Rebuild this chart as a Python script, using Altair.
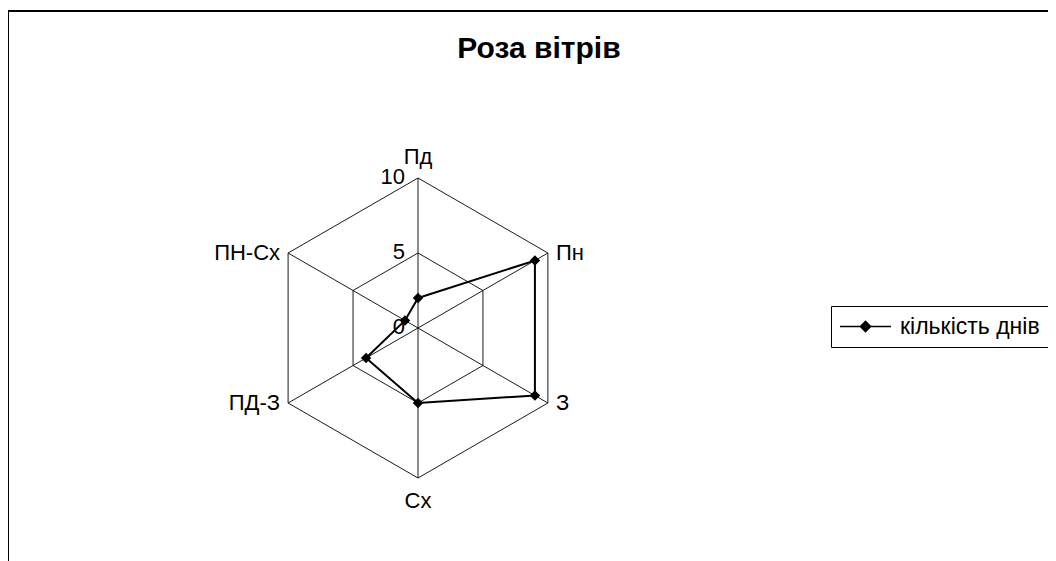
import altair as alt
import pandas as pd
import numpy as np

# ---- data ----
categories = ["Пд", "Пн", "З", "Сх", "ПД-З", "ПН-Сх"]
values = [2, 9, 9, 5, 4, 1]
grid_levels = [5, 10]
tick_values = [0, 5, 10]
series_name = "кількість днів"
title_text = "Роза вітрів"
r_max = 10

FONT = "Liberation Sans"
W, H = 1040, 553
PX = 15.0            # pixels per data unit
CX, CY = 410, 320    # centre of the radar in plot pixels

n = len(categories)
ang = [np.pi / 2 - 2 * np.pi * i / n for i in range(n)]

# series polygon (closed)
rows = []
for k in range(n + 1):
    i = k % n
    rows.append({"order": k, "cat": categories[i], "v": values[i],
                 "x": values[i] * np.cos(ang[i]), "y": values[i] * np.sin(ang[i]),
                 "series": series_name})
series_df = pd.DataFrame(rows)
pts_df = series_df.iloc[:n]

# grid hexagons
grows = []
for lv in grid_levels:
    for k in range(n + 1):
        i = k % n
        grows.append({"level": lv, "order": k,
                      "x": lv * np.cos(ang[i]), "y": lv * np.sin(ang[i])})
grid_df = pd.DataFrame(grows)

# spokes
spoke_df = pd.DataFrame({"cat": categories,
                         "x0": [0.0] * n, "y0": [0.0] * n,
                         "x1": [r_max * np.cos(a) for a in ang],
                         "y1": [r_max * np.sin(a) for a in ang]})

# category labels
def side(a):
    c = np.cos(a)
    if c > 0.1:
        return "right"
    if c < -0.1:
        return "left"
    return "top" if np.sin(a) > 0 else "bottom"

lab_df = pd.DataFrame({"cat": categories,
                       "x": [r_max * np.cos(a) for a in ang],
                       "y": [r_max * np.sin(a) for a in ang],
                       "side": [side(a) for a in ang]})

tick_df = pd.DataFrame({"t": tick_values, "x": [0.0] * len(tick_values),
                        "y": [float(t) for t in tick_values],
                        "label": [str(t) for t in tick_values]})

xs = alt.Scale(domain=[-CX / PX, (W - CX) / PX], nice=False, zero=False)
ys = alt.Scale(domain=[-(H - CY) / PX, CY / PX], nice=False, zero=False)
X = lambda f: alt.X(f, type="quantitative", scale=xs, axis=None)
Y = lambda f: alt.Y(f, type="quantitative", scale=ys, axis=None)

grid = alt.Chart(grid_df).mark_line(color="black", strokeWidth=0.9).encode(
    x=X("x"), y=Y("y"), detail="level:N", order="order:Q")

spokes = alt.Chart(spoke_df).mark_rule(color="black", strokeWidth=0.9).encode(
    x=X("x0"), y=Y("y0"), x2="x1:Q", y2="y1:Q")

legend = alt.Legend(
    orient="none", legendX=823, legendY=298, title=None,
    strokeColor="black", fillColor="white", padding=8,
    labelFont=FONT, labelFontSize=23, labelColor="black", labelOffset=8,
    symbolType="M-1,0L1,0M0,-0.2L0.2,0L0,0.2L-0.2,0Z",
    symbolSize=2601, symbolStrokeWidth=1.5, clipHeight=25,
    symbolStrokeColor="black", symbolFillColor="black")

color = alt.Color("series:N", scale=alt.Scale(range=["black"]), legend=legend)

line = alt.Chart(series_df).mark_line(strokeWidth=2).encode(
    x=X("x"), y=Y("y"), order="order:Q", color=color)

points = alt.Chart(pts_df).mark_point(shape="diamond", filled=True, size=110,
                                      opacity=1).encode(
    x=X("x"), y=Y("y"), color=color)

def lab_layer(sd, **kw):
    return alt.Chart(lab_df).transform_filter(alt.datum.side == sd).mark_text(
        font=FONT, fontSize=22, color="black", baseline="middle", **kw).encode(
        x=X("x"), y=Y("y"), text="cat:N")

labels = (lab_layer("top", align="center", dy=-21)
          + lab_layer("bottom", align="center", dy=23)
          + lab_layer("right", align="left", dx=8)
          + lab_layer("left", align="right", dx=-8))

ticks = alt.Chart(tick_df).mark_text(
    font=FONT, fontSize=22, color="black", align="right", baseline="middle",
    dx=-13, dy=-1).encode(x=X("x"), y=Y("y"), text="label:N")

title = alt.Chart(pd.DataFrame({"t": [title_text]})).mark_text(
    font=FONT, fontSize=30, fontWeight="bold", color="black",
    align="center", baseline="alphabetic").encode(
    x=alt.value(531), y=alt.value(50), text="t:N")

frame_left = alt.Chart(pd.DataFrame({"a": [0]})).mark_rule(
    color="black", strokeWidth=2).encode(
    x=alt.value(0), y=alt.value(2), y2=alt.value(H))
frame_top = alt.Chart(pd.DataFrame({"a": [0]})).mark_rule(
    color="black", strokeWidth=2).encode(
    x=alt.value(-1), x2=alt.value(W + 5), y=alt.value(3))

chart = alt.layer(grid, spokes, line, points, labels, ticks, title,
                  frame_left, frame_top).properties(
    width=W, height=H, padding=0,
    autosize=alt.AutoSizeParams(type="none"),
).configure_view(stroke=None)

chart.save("out.html", embed_options={"renderer": "svg", "actions": False})
